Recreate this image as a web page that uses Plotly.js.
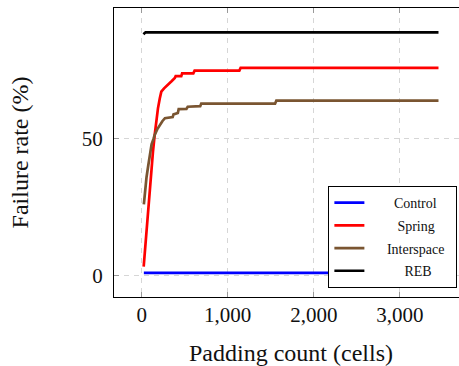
<!DOCTYPE html>
<html>
<head>
<meta charset="utf-8">
<script src="https://cdn.plot.ly/plotly-3.0.1.min.js"></script>
<style>
html,body{margin:0;padding:0;overflow:hidden;background:#fff;}
#chart{width:470px;height:366px;}
</style>
</head>
<body>
<div id="chart"></div>
<script>
const controlX = [25, 3450];
const controlY = [1.0, 1.0];

const springX = [23, 50, 75, 100, 131, 151, 170, 189, 210, 228, 260, 306, 350, 385, 395, 460, 470, 600, 615, 1135, 1150, 3450];
const springY = [3.3, 14.5, 24.8, 35.0, 45.4, 51.5, 56.8, 61.2, 64.8, 67.3, 68.5, 69.7, 71.2, 72.3, 73.0, 73.0, 74.0, 74.0, 75.0, 75.0, 76.0, 76.0];

const interX = [25, 40, 56, 75, 93, 115, 137, 151, 180, 209, 240, 270, 360, 370, 420, 430, 520, 535, 680, 692, 1550, 1565, 3450];
const interY = [26.1, 31.5, 36.0, 40.0, 44.0, 48.0, 50.0, 51.5, 53.5, 55.1, 56.5, 57.6, 58.0, 59.0, 59.5, 60.9, 61.0, 61.8, 62.0, 62.9, 62.9, 64.0, 64.0];

const rebX = [20, 45, 3450];
const rebY = [88.3, 89.0, 89.0];

const names = ['Control', 'Spring', 'Interspace', 'REB'];
const xTicks = [0, 1000, 2000, 3000];
const xTickText = ['0', '1,000', '2,000', '3,000'];
const yTicks = [0, 50];
const yTickText = ['0', '50'];

const serif = 'Liberation Serif, Times New Roman, serif';
const nb = '\u00A0';
const legendNames = [nb.repeat(7) + names[0] + nb.repeat(4), nb.repeat(8) + names[1], nb.repeat(5) + names[2], nb.repeat(10) + names[3]];

function tr(x, y, i, color) {
  return {
    x: x, y: y, type: 'scatter', mode: 'lines', name: legendNames[i],
    legendgroup: 'g' + i,
    line: {color: color, width: 2.7}
  };
}

const data = [
  tr(controlX, controlY, 0, '#0000ff'),
  tr(springX, springY, 1, '#ff0000'),
  tr(interX, interY, 2, '#7a5531'),
  tr(rebX, rebY, 3, '#000000')
];

const axisCommon = {
  showline: true, mirror: 'ticks', linecolor: '#000', linewidth: 1,
  ticks: 'inside', ticklen: 5, tickcolor: '#999', tickwidth: 1,
  showgrid: true, gridcolor: '#d6d6d6', gridwidth: 1, griddash: '5px,5px',
  zeroline: false,
  tickfont: {family: serif, size: 21, color: '#111'}
};

const layout = {
  width: 470, height: 366,
  margin: {l: 114, r: 2, t: 8, b: 69},
  paper_bgcolor: '#fff', plot_bgcolor: '#fff',
  showlegend: true,
  legend: {
    x: 0.97, xanchor: 'right', y: 0.031, yanchor: 'bottom',
    bgcolor: '#fff', bordercolor: '#000', borderwidth: 1,
    font: {family: serif, size: 14, color: '#111'},
    tracegroupgap: 1.5, traceorder: 'grouped'
  },
  xaxis: Object.assign({}, axisCommon, {
    range: [-322, 3793],
    tickvals: xTicks, ticktext: xTickText,
    ticklabelstandoff: -1,
    title: {text: 'Padding count (cells)', font: {family: serif, size: 24, color: '#111'}, standoff: 28}
  }),
  yaxis: Object.assign({}, axisCommon, {
    range: [-7.8, 97.9],
    tickvals: yTicks, ticktext: yTickText,
    ticklabelstandoff: 6,
    title: {text: 'Failure rate (%)', font: {family: serif, size: 24, color: '#111'}, standoff: 46}
  })
};

Plotly.newPlot('chart', data, layout, {displayModeBar: false, staticPlot: true});
</script>
</body>
</html>
